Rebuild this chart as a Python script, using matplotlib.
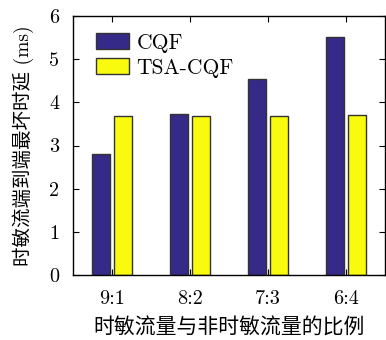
import matplotlib
matplotlib.use("Agg")
import matplotlib.pyplot as plt
import numpy as np

categories = ["9:1", "8:2", "7:3", "6:4"]
cqf = [2.80, 3.72, 4.55, 5.52]
tsa_cqf = [3.68, 3.69, 3.69, 3.70]
series_names = ["CQF", "TSA-CQF"]
yticks = [0, 1, 2, 3, 4, 5, 6]

plt.rcParams['mathtext.fontset'] = 'cm'
fam = ['cmr10', 'Noto Sans CJK SC', 'DejaVu Sans']

fig = plt.figure(figsize=(3.86, 3.40), dpi=100)
ax = fig.add_axes([73/386, 1-275/340, 312/386, 259/340])

x = np.arange(len(categories))
w = 0.235
ax.bar(x - 0.142, cqf, w, color='#352a87', edgecolor='#333333', linewidth=1.0, label=series_names[0])
ax.bar(x + 0.145, tsa_cqf, w, color='#f9fb0e', edgecolor='#333333', linewidth=1.0, label=series_names[1])

ax.set_xlim(-0.5, 3.5)
ax.set_ylim(0, 6)
ax.set_xticks(x)
ax.set_xticklabels(categories, family=fam, fontsize=14.5)
ax.set_yticks(yticks)
ax.set_yticklabels([str(v) for v in yticks], family=fam, fontsize=14.5)
ax.tick_params(direction='in', top=True, right=True, length=4, width=0.8)
ax.tick_params(axis='x', pad=11)
ax.tick_params(axis='y', pad=10)
for s in ax.spines.values():
    s.set_linewidth(1.0)

ax.set_ylabel("时敏流端到端最坏时延 (ms)", family=fam, fontsize=14, labelpad=11)
ax.set_xlabel("时敏流量与非时敏流量的比例", family=fam, fontsize=15, labelpad=7)

leg = ax.legend(loc='upper left', bbox_to_anchor=(0.02, 1.0), frameon=False,
                prop={'family': fam, 'size': 15.5},
                handlelength=1.5, handleheight=0.75, borderaxespad=0.3, labelspacing=0.25,
                handletextpad=0.35, borderpad=0.5)

fig.savefig("out.png", dpi=100)
